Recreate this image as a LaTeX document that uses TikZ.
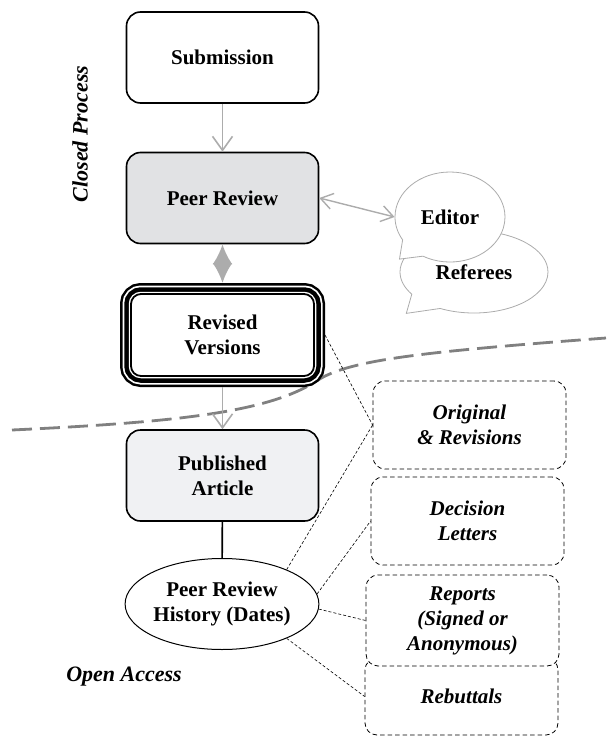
\documentclass[tikz,border=0pt]{standalone}
\usepackage{fontspec}
\setmainfont{Liberation Serif}
\usetikzlibrary{arrows.meta,shapes.geometric,shapes.callouts}
\definecolor{reviewgray}{RGB}{225,226,228}
\definecolor{pubgray}{RGB}{240,241,243}
\definecolor{arrowgray}{RGB}{172,172,172}
\definecolor{linegray}{RGB}{128,128,128}
\begin{document}
\begin{tikzpicture}[x=1pt, y=-1pt,
  every node/.style={font=\bfseries\fontsize{21}{25}\selectfont, align=center},
  stagebox/.style={draw, line width=1.6pt, rounded corners=14pt, minimum width=192pt, minimum height=91pt},
  revbox/.style={draw, line width=1.8pt, rounded corners=10pt, fill=white, minimum width=183pt, minimum height=82pt, outer sep=11pt,
    preaction={draw, line width=22pt}, preaction={draw, white, line width=17pt},
    preaction={draw, line width=13.5pt}, preaction={draw, white, line width=4.5pt}},
  itembox/.style={draw, dash pattern=on 4.5pt off 3pt, line width=0.8pt, rounded corners=12pt, fill=white, minimum width=193pt,
    font=\bfseries\itshape\fontsize{21}{25}\selectfont},
  bubble/.style={ellipse callout, draw=arrowgray, line width=0.8pt, fill=white, inner sep=0pt, callout pointer arc=30},
  flow/.style={arrowgray, line width=1.6pt, -{Straight Barb[length=14pt,width=20pt]}},
  link/.style={densely dashed, line width=0.6pt},
  sidelabel/.style={font=\bfseries\itshape\fontsize{22}{26}\selectfont}
]
\useasboundingbox (0,0) rectangle (606,736);
\draw[linegray, line width=2.8pt, dash pattern=on 20pt off 8pt] (12,430) .. controls (180,422) and (270,412) .. (318,380)
  .. controls (350,360) and (420,352) .. (606,338);

\node[stagebox] (sub) at (222.5,57.5) {Submission};
\node[stagebox, fill=reviewgray] (peer) at (222.5,198) {Peer Review};
\node[revbox] (rev) at (222.5,335) {Revised\\Versions};
\node[stagebox, fill=pubgray] (pub) at (222.5,475.5) {Published\\Article};
\node[ellipse, draw, line width=1pt, inner sep=0pt, minimum width=192pt, minimum height=91pt] (hist) at (222,604) {Peer Review\\History (Dates)};

\node[bubble, minimum width=148pt, minimum height=82pt, callout relative pointer={(-18,11)}] (ref) at (474,272) {Referees};
\node[bubble, minimum width=110pt, minimum height=90pt, callout relative pointer={(-12,10)}] (edt) at (450,217) {Editor};

\node[itembox, minimum height=88pt] (orig) at (469.5,425) {Original\\\& Revisions};
\node[itembox, minimum height=88pt] (dec) at (467.5,521) {Decision\\Letters};
\node[itembox, minimum height=77pt] (reb) at (461.5,696.5) {Rebuttals};
\node[itembox, minimum height=91pt] (rep) at (462.5,620.5) {Reports\\(Signed or\\Anonymous)};

\node[sidelabel, rotate=90] (closed) at (80,134) {Closed Process};
\node[sidelabel] (open) at (124,677) {Open Access};

\draw[flow] (sub) -- (peer);
\draw[arrowgray, line width=2.5pt, {Latex[length=20pt,width=20pt]}-{Latex[length=20pt,width=20pt]}] (peer) -- (rev);
\draw[flow] (rev) -- (pub);
\draw[line width=1.6pt] (pub) -- (hist);
\draw[arrowgray, line width=1.4pt, {Straight Barb[length=12pt,width=16pt]}-{Straight Barb[length=12pt,width=16pt]}] (peer.east) -- (edt.west);

\draw[link] (rev.east) -- (orig.west);
\draw[link] (hist.28) -- (orig.west);
\draw[link] (hist.6) -- (dec.west);
\draw[link] (hist.-3) -- (rep.west);
\draw[link] (hist.-28) -- (reb.west);
\end{tikzpicture}
\end{document}
